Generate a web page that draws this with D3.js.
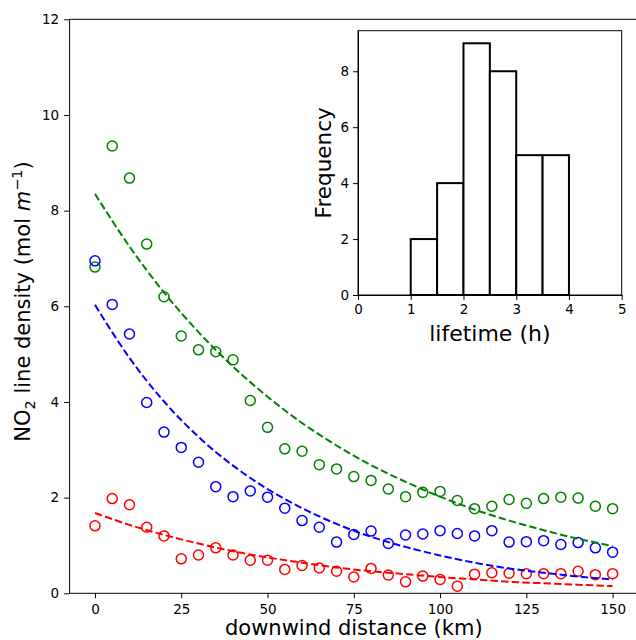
<!DOCTYPE html>
<html><head><meta charset="utf-8">
<script src="https://cdn.jsdelivr.net/npm/d3@7"></script>
<style>body{margin:0;background:#fff}svg{display:block;font-family:"DejaVu Sans",sans-serif}</style>
</head><body><svg id="c" width="636" height="640"></svg>
<script>
const distance = [0,5,10,15,20,25,30,35,40,45,50,55,60,65,70,75,80,85,90,95,100,105,110,115,120,125,130,135,140,145,150];
const greenVals = [6.82,9.35,8.68,7.30,6.20,5.38,5.09,5.05,4.88,4.03,3.47,3.02,2.97,2.69,2.60,2.44,2.36,2.18,2.02,2.11,2.13,1.94,1.77,1.82,1.96,1.88,1.98,2.01,1.99,1.82,1.77];
const blueVals  = [6.95,6.04,5.42,3.99,3.37,3.05,2.74,2.23,2.02,2.14,2.01,1.78,1.52,1.38,1.07,1.23,1.30,1.04,1.22,1.24,1.31,1.25,1.20,1.31,1.07,1.08,1.10,1.02,1.06,0.95,0.86];
const redVals   = [1.41,1.98,1.85,1.38,1.20,0.72,0.80,0.95,0.80,0.69,0.69,0.50,0.58,0.53,0.46,0.34,0.52,0.38,0.24,0.36,0.29,0.15,0.40,0.43,0.42,0.41,0.41,0.41,0.46,0.39,0.41];
const fitX = [0,10,20,30,40,50,60,70,80,90,100,110,120,130,140,150];
const greenFit = [8.35,7.25,6.29,5.46,4.74,4.11,3.56,3.09,2.68,2.33,2.02,1.75,1.52,1.32,1.14,0.99];
const blueFit  = [6.03,4.92,4.01,3.27,2.67,2.18,1.78,1.45,1.18,0.97,0.79,0.64,0.52,0.43,0.35,0.29];
const redFit   = [1.68,1.43,1.22,1.04,0.88,0.75,0.64,0.54,0.46,0.40,0.34,0.29,0.24,0.21,0.18,0.15];
const xTicks = [0,25,50,75,100,125,150];
const yTicks = [0,2,4,6,8,10,12];
const binEdges = [0.5,1,1.5,2,2.5,3,3.5,4,4.5];
const binCounts = [0,2,4,9,8,5,5,0];
const histXTicks = [0,1,2,3,4,5];
const histYTicks = [0,2,4,6,8];

const svg = d3.select("#c");
const x = d3.scaleLinear().domain([-7.5,157.5]).range([69.1,638.5]);
const y = d3.scaleLinear().domain([0,12]).range([593.3,19.3]);

// frame
svg.append("line").attr("x1",69.1).attr("x2",640).attr("y1",19.3).attr("y2",19.3).attr("stroke","#000").attr("stroke-width",1);
const gx = svg.append("g").attr("transform","translate(0,593.3)")
  .call(d3.axisBottom(x).tickValues(xTicks).tickSize(5).tickPadding(4).tickSizeOuter(0));
gx.select(".domain").attr("d","M69.1,0H640");
const gy = svg.append("g").attr("transform","translate(69.1,0)")
  .call(d3.axisLeft(y).tickValues(yTicks).tickSize(5).tickPadding(5).tickSizeOuter(0));
[gx,gy].forEach(g=>{g.selectAll("text").attr("font-size",13.5).attr("font-family","DejaVu Sans").attr("fill","#000");
  g.selectAll("line,path").attr("stroke","#000").attr("stroke-width",1);});
gx.selectAll("text").attr("dy","0.9em");

const series = [
  {vals:greenVals, fit:greenFit, col:"green"},
  {vals:blueVals, fit:blueFit, col:"blue"},
  {vals:redVals, fit:redFit, col:"red"}
];
const line = d3.line().x(d=>x(d[0])).y(d=>y(d[1])).curve(d3.curveMonotoneX);
series.forEach(s=>{
  svg.append("g").selectAll("circle").data(s.vals).join("circle")
    .attr("cx",(d,i)=>x(distance[i])).attr("cy",d=>y(d)).attr("r",5)
    .attr("fill","none").attr("stroke",s.col).attr("stroke-width",1.5);
});
series.forEach(s=>{
  svg.append("path").datum(fitX.map((v,i)=>[v,s.fit[i]])).attr("d",line)
    .attr("fill","none").attr("stroke",s.col).attr("stroke-width",2).attr("stroke-dasharray","7.4,3.2");
});

// labels
svg.append("text").attr("x",x(75)).attr("y",635).attr("text-anchor","middle").attr("font-size",21).text("downwind distance (km)");
const yl = svg.append("text").attr("transform","translate(30,"+y(6.1)+") rotate(-90)").attr("text-anchor","middle").attr("font-size",21);
yl.append("tspan").text("NO");
yl.append("tspan").attr("font-size",14.5).attr("dy",5).text("2");
yl.append("tspan").attr("dy",-5).text(" line density (mol ");
yl.append("tspan").attr("font-style","italic").text("m");
yl.append("tspan").attr("font-size",14.5).attr("dy",-8).text("\u22121");
yl.append("tspan").attr("dy",8).text(")");

// inset
const hx = d3.scaleLinear().domain([0,5]).range([358,621.7]);
const hy = d3.scaleLinear().domain([0,9.45]).range([295,30.7]);
svg.append("rect").attr("x",358).attr("y",30.7).attr("width",263.7).attr("height",264.3).attr("fill","#fff").attr("stroke","none");
svg.append("g").selectAll("rect").data(binCounts).join("rect")
  .attr("x",(d,i)=>hx(binEdges[i])).attr("width",(d,i)=>hx(binEdges[i+1])-hx(binEdges[i]))
  .attr("y",d=>hy(d)).attr("height",d=>hy(0)-hy(d))
  .attr("fill","#fff").attr("stroke","#000").attr("stroke-width",2);
svg.append("rect").attr("x",358).attr("y",30.7).attr("width",263.7).attr("height",264.3).attr("fill","none").attr("stroke","#000").attr("stroke-width",1);
const hgx = svg.append("g").attr("transform","translate(0,295)").call(d3.axisBottom(hx).tickValues(histXTicks).tickFormat(d3.format("d")).tickSize(5).tickPadding(2).tickSizeOuter(0));
const hgy = svg.append("g").attr("transform","translate(358,0)").call(d3.axisLeft(hy).tickValues(histYTicks).tickFormat(d3.format("d")).tickSize(5).tickPadding(4).tickSizeOuter(0));
[hgx,hgy].forEach(g=>{g.selectAll("text").attr("font-size",13.5).attr("font-family","DejaVu Sans").attr("fill","#000");
  g.selectAll("line,path").attr("stroke","#000").attr("stroke-width",1);});
hgx.selectAll("text").attr("dy","0.9em");
svg.append("text").attr("x",hx(2.5)).attr("y",341).attr("text-anchor","middle").attr("font-size",22).text("lifetime (h)");
svg.append("text").attr("transform","translate(331,"+hy(4.725)+") rotate(-90)").attr("text-anchor","middle").attr("font-size",21.5).text("Frequency");
</script></body></html>
